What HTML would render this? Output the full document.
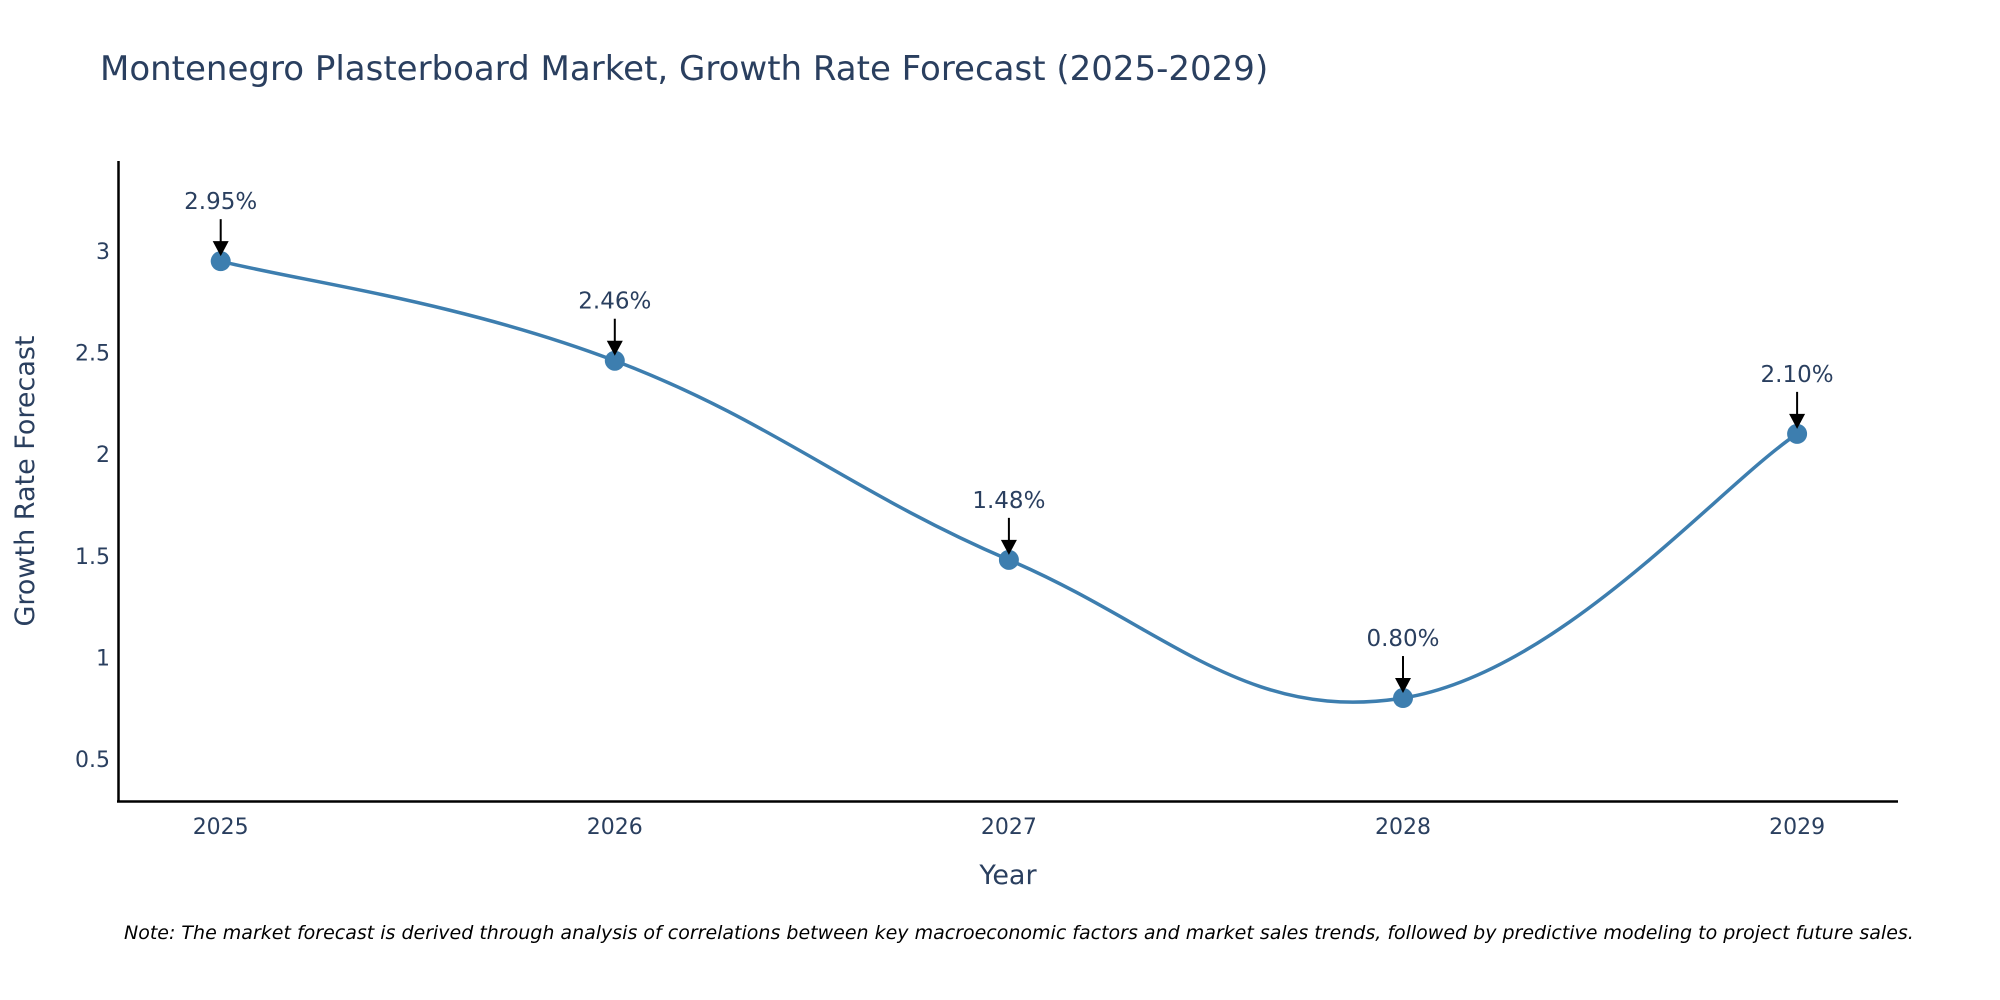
<!DOCTYPE html>
<html><head><meta charset="utf-8"><style>
body{margin:0;background:#fff;}
svg{display:block;font-family:"DejaVu Sans","Liberation Sans",sans-serif;}
</style></head><body>
<svg id="chart" width="2000" height="1000">
<text x="100" y="80" font-size="34" fill="#2a3f5f">Montenegro Plasterboard Market, Growth Rate Forecast (2025-2029)</text>
<g id="yticks"></g>
<g id="xticks"></g>
<line x1="118.5" y1="161" x2="118.5" y2="802" stroke="#000" stroke-width="2.5"/>
<line x1="117" y1="801.5" x2="1898" y2="801.5" stroke="#000" stroke-width="2.5"/>
<path id="line" fill="none" stroke="#3d7eaf" stroke-width="3.5"/>
<g id="points"></g>
<g id="annots"></g>
<text transform="translate(34,481) rotate(-90)" text-anchor="middle" font-size="27" fill="#2a3f5f">Growth Rate Forecast</text>
<text x="1008" y="884" text-anchor="middle" font-size="27" fill="#2a3f5f">Year</text>
<text x="124" y="939" font-size="19" font-style="italic" fill="#000">Note: The market forecast is derived through analysis of correlations between key macroeconomic factors and market sales trends, followed by predictive modeling to project future sales.</text>
</svg>
<script>
const years = [2025, 2026, 2027, 2028, 2029];
const values = [2.95, 2.46, 1.48, 0.80, 2.10];
const yTicks = [0.5, 1, 1.5, 2, 2.5, 3];
const NS = "http://www.w3.org/2000/svg";
function xs(yr){ return 220.7 + (yr - 2025) * 394.1; }
function ys(v){ return 251 + (3 - v) * 203.2; }
function mk(tag, attrs, parent){ const e=document.createElementNS(NS,tag); for(const k in attrs) e.setAttribute(k,attrs[k]); parent.appendChild(e); return e; }
const yt=document.getElementById('yticks');
yTicks.forEach(v=>{
  const t=mk('text',{x:110,y:ys(v)+8,'text-anchor':'end','font-size':22,fill:'#2a3f5f'},yt);
  
  
  t.textContent=String(v);
});
const xt=document.getElementById('xticks');
years.forEach(y=>{
  const t=mk('text',{x:xs(y),y:834,'text-anchor':'middle','font-size':22,fill:'#2a3f5f'},xt);
  
  
  t.textContent=String(y);
});
const pts=years.map((y,i)=>[xs(y),ys(values[i])]);
let d=`M${pts[0][0]},${pts[0][1]}`;
const s=0.2;
for(let i=0;i<pts.length-1;i++){
  const p0=pts[Math.max(0,i-1)],p1=pts[i],p2=pts[i+1],p3=pts[Math.min(pts.length-1,i+2)];
  const c1=[p1[0]+(p2[0]-p0[0])*s,p1[1]+(p2[1]-p0[1])*s];
  const c2=[p2[0]-(p3[0]-p1[0])*s,p2[1]-(p3[1]-p1[1])*s];
  d+=` C${c1[0]},${c1[1]} ${c2[0]},${c2[1]} ${p2[0]},${p2[1]}`;
}
document.getElementById('line').setAttribute('d',d);
const pg=document.getElementById('points'), ag=document.getElementById('annots');
pts.forEach((p,i)=>{
  const c=mk('circle',{cx:p[0],cy:p[1],r:10,fill:'#3d7eaf'},pg);
  
  
  const l=mk('line',{x1:p[0],y1:p[1]-42,x2:p[0],y2:p[1]-16,stroke:'#000','stroke-width':2},ag);
  
  
  const h=mk('polygon',{points:`${p[0]-8},${p[1]-20} ${p[0]+8},${p[1]-20} ${p[0]},${p[1]-5}`,fill:'#000'},ag);
  
  
  const t=mk('text',{x:p[0],y:p[1]-52,'text-anchor':'middle','font-size':23,fill:'#2a3f5f'},ag);
  
  
  t.textContent=values[i].toFixed(2)+'%';
});
</script>
</body></html>
